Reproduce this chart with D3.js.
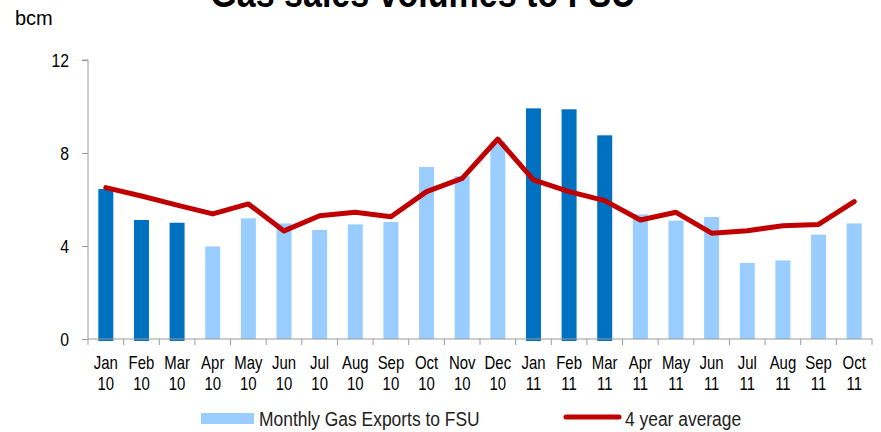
<!DOCTYPE html>
<html><head><meta charset="utf-8">
<script src="https://cdn.jsdelivr.net/npm/d3@7/dist/d3.min.js"></script>
<style>html,body{margin:0;padding:0;background:#fff;}svg{display:block;}</style>
</head><body><div id="chart"></div>
<script>
const months = ["Jan","Feb","Mar","Apr","May","Jun","Jul","Aug","Sep","Oct","Nov","Dec","Jan","Feb","Mar","Apr","May","Jun","Jul","Aug","Sep","Oct"];
const years  = ["10","10","10","10","10","10","10","10","10","10","10","10","11","11","11","11","11","11","11","11","11","11"];
const exportsFSU = [6.45,5.12,5.0,3.98,5.19,4.97,4.69,4.93,5.03,7.4,7.0,8.5,9.92,9.88,8.76,5.36,5.09,5.25,3.27,3.38,4.49,4.97];
const avg4yr = [6.51,6.15,5.76,5.38,5.81,4.65,5.3,5.45,5.26,6.34,6.91,8.6,6.84,6.34,5.95,5.12,5.45,4.55,4.66,4.87,4.93,5.91];
const darkMonths = ["Jan 10","Feb 10","Mar 10","Jan 11","Feb 11","Mar 11"];
const yTicks = [0,4,8,12];
const titleText = "Gas sales volumes to FSU";
const unitText = "bcm";
const legendBars = "Monthly Gas Exports to FSU";
const legendLine = "4 year average";

(function(){
const W = 881, H = 432;
const svg = d3.select("#chart").append("svg").attr("width", W).attr("height", H);

function measure(fam, size, txt){
  const t = svg.append("text").attr("font-family", fam).attr("font-size", size).text(txt);
  const w = t.node().getComputedTextLength(); t.remove(); return w;
}
const wn = measure("'Liberation Sans Narrow'", 20, "Monthly Gas Exports");
const wr = measure("'Liberation Sans'", 20, "Monthly Gas Exports");
const narrowOK = wn < wr * 0.9;
const FONT = narrowOK ? "'Liberation Sans Narrow', 'Arial Narrow', sans-serif" : "'Liberation Sans', Arial, sans-serif";
const sx = narrowOK ? 1 : 0.83;

const cats = months.map((m,i)=>m+" "+years[i]);
const pL = 88, pR = 872, pT = 60, pB = 339;
const x = d3.scaleBand().domain(cats).range([pL, pR]).paddingInner(0).paddingOuter(0);
const y = d3.scaleLinear().domain([0,12]).range([pB, pT]);
const axisColor = "#9a9a9a";
const barW = 15;

// title
svg.append("text").attr("transform", `translate(423,7) scale(${sx},1)`)
  .attr("text-anchor","middle").attr("font-family",FONT).attr("font-weight","bold")
  .attr("font-size",41).attr("fill","#000").text(titleText);
// unit
svg.append("text").attr("x",15).attr("y",25).attr("font-family","'Liberation Sans', Arial, sans-serif")
  .attr("font-size",20).attr("fill","#000").text(unitText);

// bars
svg.append("g").selectAll("rect").data(cats).join("rect")
  .attr("x", d => x(d) + x.bandwidth()/2 - barW/2)
  .attr("width", barW)
  .attr("y", (d,i) => y(exportsFSU[i]))
  .attr("height", (d,i) => y(0) - y(exportsFSU[i]) + (darkMonths.includes(d) ? 2 : 0))
  .attr("fill", d => darkMonths.includes(d) ? "#0070C0" : "#99CCFF");

// y axis
const yAxis = svg.append("g").attr("transform", `translate(${pL},0)`)
  .call(d3.axisLeft(y).tickValues(yTicks).tickSize(6).tickPadding(13).tickFormat(d3.format("d")));
yAxis.select(".domain").attr("stroke", axisColor).attr("d", `M-6,${pT}H0V${pB}`);
yAxis.selectAll(".tick line").attr("stroke", axisColor);
yAxis.selectAll(".tick text").attr("font-family",FONT).attr("font-size",19).attr("fill","#000")
  .attr("transform", `scale(${sx},1)`).attr("x", -19/sx);

// x axis
const xAxis = svg.append("g").attr("transform", `translate(0,${pB})`)
  .call(d3.axisBottom(x).tickSize(0).tickPadding(0).tickFormat(""));
xAxis.select(".domain").attr("stroke", axisColor).attr("d", `M${pL},0H${pR}`);
const bounds = cats.map(c => x(c)).concat([pR]);
xAxis.append("g").selectAll("line").data(bounds).join("line")
  .attr("x1", d=>d).attr("x2", d=>d).attr("y1",0).attr("y2",6).attr("stroke", axisColor);
xAxis.selectAll(".tick text").each(function(d,i){
  const t = d3.select(this).text(null).attr("font-family",FONT).attr("font-size",18).attr("fill","#000")
    .attr("y",0).attr("dy",null).attr("transform", `scale(${sx},1)`);
  t.append("tspan").attr("x",0).attr("y",30).text(months[i]);
  t.append("tspan").attr("x",0).attr("y",51).text(years[i]);
});

// line
const line = d3.line().x((d,i)=> x(cats[i]) + x.bandwidth()/2).y(d=>y(d));
svg.append("path").datum(avg4yr).attr("d", line).attr("fill","none")
  .attr("stroke","#C00000").attr("stroke-width",5).attr("stroke-linejoin","round").attr("stroke-linecap","round");

// legend
svg.append("rect").attr("x",201).attr("y",413).attr("width",53).attr("height",11).attr("fill","#99CCFF");
svg.append("text").attr("transform", `translate(259,426) scale(${sx},1)`).attr("font-family",FONT)
  .attr("font-size",21).attr("fill","#222").text(legendBars);
svg.append("line").attr("x1",566).attr("x2",619).attr("y1",417).attr("y2",417)
  .attr("stroke","#C00000").attr("stroke-width",5).attr("stroke-linecap","round");
svg.append("text").attr("transform", `translate(625,426) scale(${sx},1)`).attr("font-family",FONT)
  .attr("font-size",21).attr("fill","#222").text(legendLine);
})();
</script></body></html>
